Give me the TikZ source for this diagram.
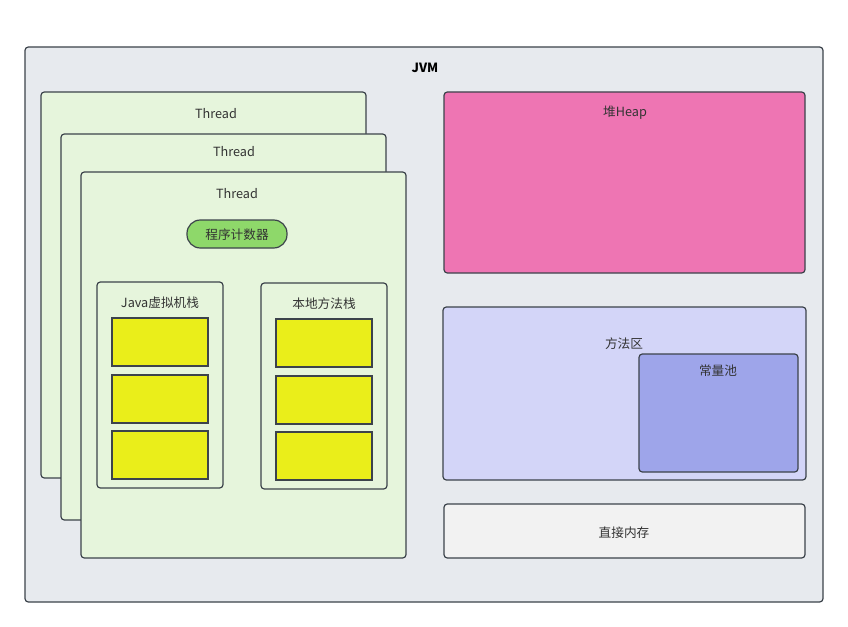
\documentclass[tikz,border=0pt]{standalone}
\usepackage{fontspec}
\setmainfont{Noto Sans CJK SC}
\begin{document}
\begin{tikzpicture}[x=0.75pt,y=-0.75pt,
  every node/.style={font=\fontsize{9.5}{11}\selectfont, text=txt},
  box/.style={draw=edge, line width=0.9pt, rounded corners=2.5pt},
  lbl/.style={inner sep=0pt, anchor=center}]
\definecolor{edge}{HTML}{3C434B}
\definecolor{txt}{HTML}{333333}
\definecolor{jvmbg}{HTML}{E7EAEE}
\definecolor{thr}{HTML}{E6F5DC}
\definecolor{pc}{HTML}{8ED86A}
\definecolor{frame}{HTML}{EAEE1A}
\definecolor{heap}{HTML}{EE75B3}
\definecolor{meth}{HTML}{D3D5F8}
\definecolor{pool}{HTML}{9EA5EA}
\definecolor{direct}{HTML}{F2F2F2}
\useasboundingbox[fill=white] (0,0) rectangle (848,627);

% JVM container
\draw[box, fill=jvmbg] (25,47) rectangle (823,602);
\node[lbl, font=\fontsize{9.5}{11}\selectfont\bfseries, text=black] (jvm) at (425,68) {JVM};

% stacked threads
\draw[box, fill=thr] (41,92) rectangle (366,478);
\node[lbl] (t1) at (216,114) {Thread};
\draw[box, fill=thr] (61,134) rectangle (386,520);
\node[lbl] (t2) at (234,152) {Thread};
\draw[box, fill=thr] (81,172) rectangle (406,558);
\node[lbl] (t3) at (237,194) {Thread};

% program counter
\draw[draw=edge, line width=0.9pt, fill=pc, rounded corners=10pt] (187,220) rectangle (287,248);
\node[lbl] (pcl) at (237,235) {程序计数器};

% JVM stack
\draw[box, fill=thr] (97,282) rectangle (223,488);
\node[lbl] (jstack) at (160,303) {Java虚拟机栈};
\foreach \y in {318,375,431}
  \draw[draw=edge, line width=0.9pt, fill=frame] (112,\y) rectangle (208,\y+48);

% native method stack
\draw[box, fill=thr] (261,283) rectangle (387,489);
\node[lbl] (nstack) at (324,304) {本地方法栈};
\foreach \y in {319,376,432}
  \draw[draw=edge, line width=0.9pt, fill=frame] (276,\y) rectangle (372,\y+48);

% heap
\draw[box, fill=heap] (444,92) rectangle (805,273);
\node[lbl] (heapl) at (625,113) {堆Heap};

% method area with constant pool
\draw[box, fill=meth] (443,307) rectangle (806,480);
\node[lbl] (methl) at (624,344) {方法区};
\draw[box, fill=pool] (639,354) rectangle (798,472);
\node[lbl] (pooll) at (718,371) {常量池};

% direct memory
\draw[box, fill=direct] (444,504) rectangle (805,558);
\node[lbl] (directl) at (624,533) {直接内存};
\end{tikzpicture}
\end{document}
